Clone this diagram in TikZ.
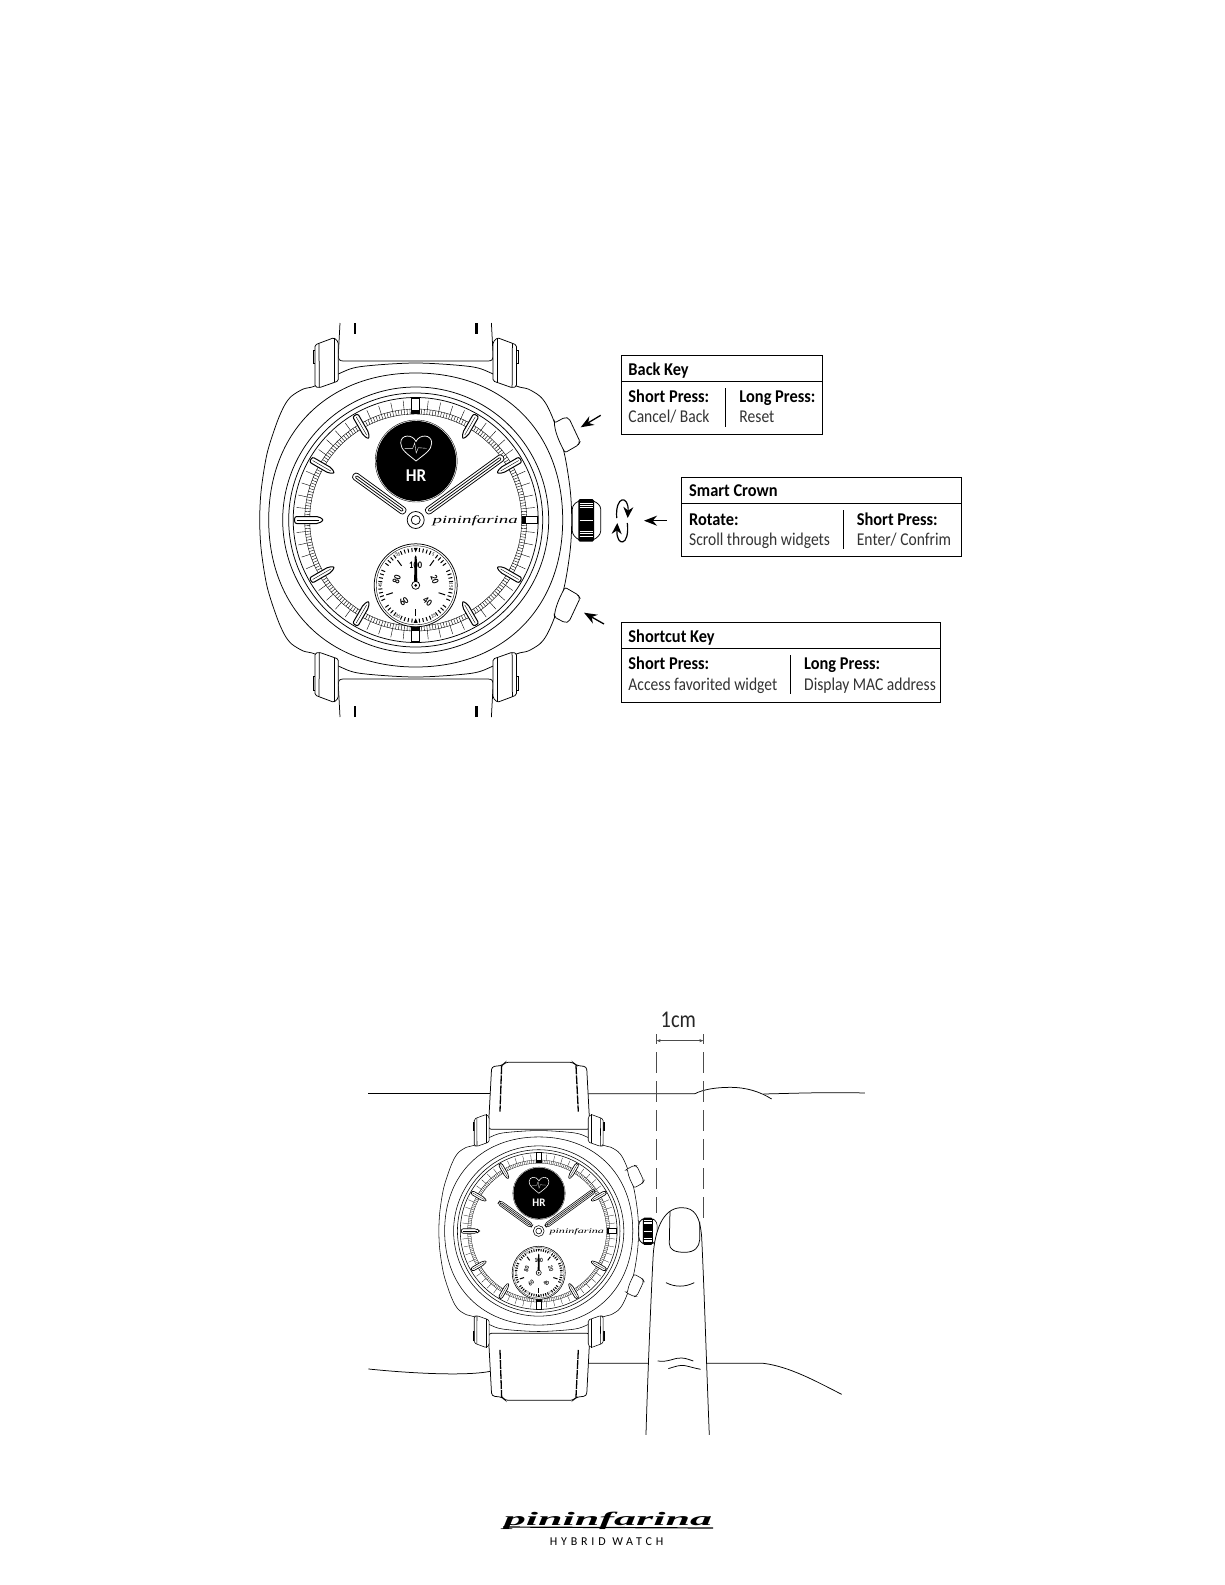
\documentclass[tikz,border=0pt]{standalone}
\usepackage{fontspec}
\setmainfont{Carlito}
\newfontfamily\logofont{Liberation Serif}
\usetikzlibrary{arrows.meta}
\tikzset{
    wline/.style={line width=.75pt},
    wthin/.style={line width=.4pt},
    wmark/.style={line width=1pt},
    dialtext/.style={transform shape, inner sep=0pt, text=black},
    pics/watchbody/.style={code={
        \draw[wline, fill=white] plot[smooth cycle] coordinates {(0,-157) (55.7,-153.3) (77.4,-146) (100.7,-134) (112.4,-131) (124,-124) (131,-115) (138.6,-98) (148.6,-66.7) (154.5,-30) (156,0) (154.5,30) (148.6,66.7) (138.6,98) (131,115) (124,124) (112.4,131) (100.7,134) (77.4,146) (55.7,153.3) (0,157) (-55.7,153.3) (-77.4,146) (-100.7,134) (-112.4,131) (-124,124) (-131,115) (-138.6,98) (-148.6,66.7) (-154.5,30) (-156,0) (-154.5,-30) (-148.6,-66.7) (-138.6,-98) (-131,-115) (-124,-124) (-112.4,-131) (-100.7,-134) (-77.4,-146) (-55.7,-153.3)};
        \foreach \sx/\sy in {1/1,-1/1,1/-1,-1/-1} {
            \begin{scope}[xscale=\sx, yscale=\sy]
                \draw[wline, fill=white] (-102.4,-170) rectangle (-100.7,-156.7);
                \draw[wline, fill=white, rounded corners=1.5pt] (-77.4,-139) -- (-96.4,-132.3) -- (-100.7,-133.3) -- (-100.7,-175) -- (-96.7,-176.7) -- (-81.7,-182.3) -- (-77.4,-178) -- cycle;
                \draw[wline] (-96.7,-176.7) -- (-96.4,-132.3);
                \draw[wline] (-81.7,-182.3) -- (-81.7,-138);
            \end{scope}
        }
        \foreach \sy in {1,-1} {
            \begin{scope}[yscale=\sy]
                \draw[wline, fill=white, rounded corners=2pt] (138.6,-97) -- (149.3,-102.7) -- (153.3,-101.7) -- (164.3,-78.3) -- (162.6,-75) -- (149.3,-67.3) .. controls (145.3,-75) and (140,-85) .. cycle;
            \end{scope}
        }
        \draw[wline, fill=white, rounded corners=3pt] (162.6,-19.3) -- (156.6,-14) -- (156.6,14) -- (162.6,20) -- (178.3,20) -- (185,14) -- (185,-14) -- (178.3,-19.3) -- cycle;
        \fill[rounded corners=1.5pt] (162.6,-21) rectangle (178.3,21.7);
        \foreach \y in {-16.5,-14.5,-12.5,0,11,13.5,16} {
            \draw[white, wthin] (163.8,\y) -- (177,\y);
        }
        \draw[wline] (147,0) .. controls (147,88) and (88,147) .. (0,147) .. controls (-88,147) and (-147,88) .. (-147,0) .. controls (-147,-88) and (-88,-147) .. (0,-147) .. controls (88,-147) and (147,-88) .. (147,0) -- cycle;
        \draw[wline] (0,0) circle (133);
        \draw[wline] (0,0) circle (127);
        \draw[wline] (0,0) circle (122.5);
        \draw[wthin] (0,0) circle (111);
        \draw[wthin] (0,0) circle (106);
        \foreach \a in {0,1.5,...,358.5} {
            \draw[wthin] (\a:106) -- (\a:111);
        }
        \foreach \a in {0,30,...,330} {
            \foreach \b in {6,12,18,24} {
                \draw[wthin] ({\a+\b}:111) -- ({\a+\b}:120);
            }
        }
        \foreach \a in {30,60,120,150,210,240,300,330} {
            \draw[wmark, fill=white, rounded corners=2pt, rotate=\a] (-3,-121) -- (3,-121) -- (3,-99) -- (0,-93.5) -- (-3,-99) -- cycle;
            \draw[wthin, rotate=\a] (0,-119) -- (0,-98);
        }
        \draw[wmark, fill=white, rounded corners=2pt] (-121,-3.5) -- (-121,3.5) -- (-97,3.5) -- (-92,0) -- (-97,-3.5) -- cycle;
        \draw[wthin] (-119,0) -- (-97,0);
        \draw[line width=1.1pt, fill=white] (-4,-122) rectangle (4,-107);
        \fill (-4,-110.5) rectangle (4,-106);
        \draw[line width=1.1pt, fill=white] (-4,122) rectangle (4,107);
        \fill (-4,110.5) rectangle (4,106);
        \draw[line width=1.1pt, fill=white] (122,-3.6) rectangle (107.5,3.6);
        \fill (110.5,-3.6) rectangle (106,3.6);
        \fill[black] (0.5,-59) circle (40);
        \draw[wthin] (0.5,-59) circle (41);
        \draw[white, wline] (0.3,-59) .. controls (-8,-66) and (-15,-70) .. (-15,-77) .. controls (-15,-86) and (-3,-86) .. (0.3,-78.5) .. controls (3.6,-86) and (16,-86) .. (16,-77) .. controls (16,-70) and (9,-66) .. (0.3,-59) -- cycle;
        \draw[white, wthin] (-11,-71.7) -- (-3,-71.7) -- (-1,-77) -- (0.5,-67) -- (2.6,-72.3) -- (11,-71.7);
        \node[dialtext, text=white, font=\fontsize{18}{18}\selectfont\bfseries, xscale=.95] (hrlabel) at (0.3,-44) {HR};
        \foreach \a/\len in {54/77,-54/108} {
            \draw[wline, fill=white, rounded corners=3pt, rotate=\a] (-3.6,-13) rectangle (3.6,-\len);
            \draw[wline, rounded corners=1pt, rotate=\a] (-1.2,-16) rectangle (1.2,{-\len+3});
        }
        \draw[wline, fill=white] (0,0) circle (8.5);
        \draw[wline] (0,0) circle (4.5);
        \node[dialtext, font=\logofont\itshape\fontsize{11}{11}\selectfont, xscale=1.72] (dialname) at (59.5,1) {pininfarina};
        \draw[wline, fill=white] (0,65.3) circle (41.5);
        \draw[wthin] (0,65.3) circle (39.5);
        \begin{scope}[shift={(0,65.3)}]
            \foreach \a in {0,30,...,330} {
                \foreach \b in {6,12,18,24} {
                    \draw[line width=1pt] ({\a+\b-90}:33.5) -- ({\a+\b-90}:37.5);
                }
            }
            \foreach \a in {36,108,180,252,324} {
                \draw[line width=1pt] ({\a-90}:24) -- ({\a-90}:31);
            }
            \fill (0,-33) -- (2,-37.5) -- (-2,-37.5) -- cycle;
            \fill (0,33) -- (2,37.5) -- (-2,37.5) -- cycle;
            \foreach \n/\a/\r in {100/0/0,20/72/-72,40/144/-36,60/216/36,80/288/72} {
                \node[dialtext, rotate=\r, font=\fontsize{10}{10}\selectfont\bfseries, xscale=.85] (subnum\n) at ({\a-90}:20) {\n};
            }
            \foreach \n/\a/\r in {5/30/-20,15/90/-90,25/150/30,35/210/-30,45/270/90,55/330/20} {
                \node[dialtext, rotate=\r, font=\fontsize{5}{5}\selectfont] (subsmall\n) at ({\a-90}:35.5) {\n};
            }
            \fill (-1.7,-1) -- (-1,-28) -- (0,-30) -- (1,-28) -- (1.7,-1) -- cycle;
            \draw[wline, fill=white] (0,0) circle (4);
            \fill (0,0) circle (1.5);
        \end{scope}
    }},
    keybox/.style={draw, line width=.8pt, anchor=north west, inner sep=0pt},
    keyrule/.style={line width=.7pt},
    keytitle/.style={anchor=base west, inner sep=0pt, xscale=.91, font=\fontsize{18}{18}\selectfont\bfseries},
    keyhead/.style={anchor=base west, inner sep=0pt, xscale=.91, font=\fontsize{18}{18}\selectfont\bfseries},
    keytext/.style={anchor=base west, inner sep=0pt, xscale=.865, text=black!80, font=\fontsize{18}{18}\selectfont},
    callout/.style={-{Stealth[length=13pt, width=10pt]}, line width=1.3pt}
}
\begin{document}
\begin{tikzpicture}[x=1pt, y=-1pt]
\useasboundingbox (0,0) rectangle (1225,1585);
\fill[white] (0,0) rectangle (1225,1585);

\begin{scope}[shift={(415.7,520)}]
    \foreach \sx/\sy in {1/1,1/-1} {
        \begin{scope}[yscale=\sy]
            \draw[wline] (-75.7,-197) -- (-77.4,-165) .. controls (-77.4,-160) and (-76,-159) .. (-72,-159) -- (72,-159) .. controls (76,-159) and (77.4,-160) .. (77.4,-165) -- (75.7,-197);
            \draw[line width=2.2pt] (-60.7,-197) -- (-60.7,-186);
            \draw[line width=2.2pt] (60.7,-197) -- (60.7,-186);
        \end{scope}
    }
\end{scope}
\pic (bigwatch) at (415.7,520) {watchbody};

\coordinate (backtail) at (600.7,415.3);
\coordinate (backtip) at (580.7,427.3);
\coordinate (shorttail) at (604,624);
\coordinate (shorttip) at (584,612.7);
\coordinate (crowntail) at (666.7,520.7);
\coordinate (crowntip) at (644,520.7);
\draw[callout] (backtail) -- (backtip);
\draw[callout] (shorttail) -- (shorttip);
\draw[callout] (crowntail) -- (crowntip);
\coordinate (spinastart) at (616.7,518);
\coordinate (spinaend) at (627.7,518);
\coordinate (spinbstart) at (627.3,523);
\coordinate (spinbend) at (617.3,523);
\draw[-{Stealth[length=11pt, width=10pt]}, line width=1.2pt] (spinastart) .. controls (615,495) and (629,495) .. (spinaend);
\draw[-{Stealth[length=11pt, width=10pt]}, line width=1.2pt] (spinbstart) .. controls (630,547) and (616,547) .. (spinbend);

\node[keybox, minimum width=201pt, minimum height=79pt] (backbox) at (621.3,355.3) {};
\draw[keyrule] (621.3,381.3) -- (822.3,381.3);
\draw[keyrule] (725.3,388) -- (725.3,427.3);
\node[keytitle] (backtitle) at (628.3,375) {Back Key};
\node[keyhead] (backshort) at (628.3,402.7) {Short Press:};
\node[keytext] (backcancel) at (628.3,422.7) {Cancel/ Back};
\node[keyhead] (backlong) at (739.3,402.7) {Long Press:};
\node[keytext] (backreset) at (739.3,422.7) {Reset};

\node[keybox, minimum width=280pt, minimum height=79.6pt] (crownbox) at (681.3,476.7) {};
\draw[keyrule] (681.3,503.3) -- (961.3,503.3);
\draw[keyrule] (843.3,510) -- (843.3,549.3);
\node[keytitle] (crowntitle) at (689,496.7) {Smart Crown};
\node[keyhead] (crownrotate) at (689,525) {Rotate:};
\node[keytext] (crownscroll) at (689,545) {Scroll through widgets};
\node[keyhead] (crownshort) at (856.7,525) {Short Press:};
\node[keytext] (crownenter) at (856.7,545) {Enter/ Confrim};

\node[keybox, minimum width=319pt, minimum height=80.6pt] (shortbox) at (621.3,621.7) {};
\draw[keyrule] (621.3,648.3) -- (940.3,648.3);
\draw[keyrule] (790.3,655) -- (790.3,694.3);
\node[keytitle] (shorttitle) at (628.3,642.7) {Shortcut Key};
\node[keyhead] (shortshort) at (628.3,669.3) {Short Press:};
\node[keytext] (shortaccess) at (628.3,690) {Access favorited widget};
\node[keyhead] (shortlong) at (804,669.3) {Long Press:};
\node[keytext] (shortmac) at (804,690) {Display MAC address};

\begin{scope}[shift={(360,1000)}, x=.3333pt, y=-.3333pt]
    \draw[wline] (25,281) -- (400,281);
    \draw[wline] (680,281) -- (1005,281) .. controls (1030,268) and (1070,262) .. (1110,262) .. controls (1160,262) and (1200,275) .. (1235,297);
    \draw[wline] (1210,282) .. controls (1300,280) and (1400,276) .. (1515,279);
    \draw[wline] (25,1107) .. controls (150,1120) and (330,1130) .. (400,1112);
    \draw[wline] (680,1090) -- (1210,1090) .. controls (1290,1100) and (1370,1145) .. (1445,1183);
    \draw[wline, fill=white, rounded corners=3pt] (385,388) -- (395,200) -- (428,196) -- (435,187) -- (640,187) -- (648,196) -- (680,200) -- (690,388) -- cycle;
    \draw[wline, fill=white, rounded corners=3pt] (385,1000) -- (395,1188) -- (428,1192) -- (435,1201) -- (640,1201) -- (648,1192) -- (680,1188) -- (690,1000) -- cycle;
    \draw[line width=1.3pt, dash pattern=on 9pt off 1pt] (425,196) -- (420,335);
    \draw[line width=1.3pt, dash pattern=on 9pt off 1pt] (648,196) -- (655,335);
    \draw[line width=1.3pt, dash pattern=on 9pt off 1pt] (420,1050) -- (425,1192);
    \draw[line width=1.3pt, dash pattern=on 9pt off 1pt] (655,1050) -- (648,1192);
\end{scope}
\begin{scope}[wline/.style={line width=.55pt}, wthin/.style={line width=.25pt}, wmark/.style={line width=.65pt}]
    \pic[scale=.64] (smallwatch) at (538.7,1231) {watchbody};
\end{scope}
\begin{scope}[shift={(360,1000)}, x=.3333pt, y=-.3333pt]
    \coordinate (leftgaugetop) at (890,103);
    \coordinate (leftgaugeend) at (890,640);
    \coordinate (rightgaugetop) at (1030,103);
    \coordinate (rightgaugeend) at (1030,660);
    \coordinate (spanleft) at (890,122);
    \coordinate (spanright) at (1030,122);
    \draw[wthin, black!70, dash pattern=on 21pt off 8pt, dash phase=-18pt] (leftgaugetop) -- (leftgaugeend);
    \draw[wthin, black!70, dash pattern=on 21pt off 8pt, dash phase=-18pt] (rightgaugetop) -- (rightgaugeend);
    \draw[{Stealth[length=4pt, width=3pt]}-{Stealth[length=4pt, width=3pt]}, wthin, black!70] (spanleft) -- (spanright);
    \node[inner sep=0pt, text=black!85, xscale=.85, font=\fontsize{24}{24}\selectfont] (spanlabel) at (955,60) {1cm};
    \draw[wline, fill=white] (858,1305) .. controls (864,1100) and (875,850) .. (880,760) .. controls (885,700) and (905,623) .. (965,623) .. controls (1005,623) and (1020,650) .. (1025,710) .. controls (1032,850) and (1038,1050) .. (1048,1305);
    \draw[wline] (930,635) -- (928,730) .. controls (928,750) and (945,757) .. (975,757) .. controls (1005,757) and (1018,740) .. (1019,720) -- (1019,665);
    \draw[wline] (918,848) .. controls (945,862) and (975,862) .. (1003,848);
    \draw[wline] (893,1083) .. controls (925,1088) and (945,1072) .. (965,1074) .. controls (980,1075) and (990,1080) .. (1000,1083);
    \draw[wline] (925,1106) .. controls (945,1100) and (960,1094) .. (975,1097) .. controls (990,1100) and (1005,1105) .. (1022,1108);
\end{scope}

\node[inner sep=0pt, font=\logofont\bfseries\itshape\fontsize{19}{19}\selectfont, xscale=2.32] (logoname) at (608,1521) {pininfarina};
\draw[line width=1.2pt] (503,1527) -- (713,1528);
\node[inner sep=0pt, font=\fontsize{12}{12}\selectfont\addfontfeature{LetterSpace=32}] (logosub) at (606.5,1541.5) {HYBRID WATCH};
\end{tikzpicture}
\end{document}
